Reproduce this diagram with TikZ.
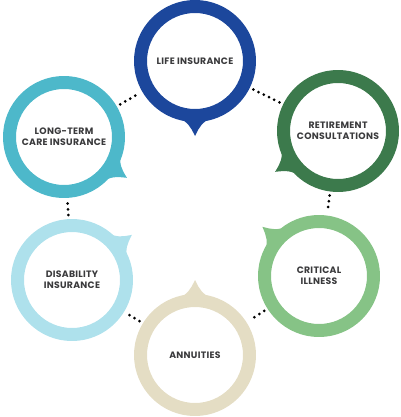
\documentclass[tikz,border=0pt]{standalone}
\usepackage{fontspec}
\setmainfont{Poppins}[LetterSpace=3]
\usetikzlibrary{calc}
\definecolor{lifec}{HTML}{1C479C}
\definecolor{retc}{HTML}{3C7A4C}
\definecolor{ltcc}{HTML}{4DB8CA}
\definecolor{disc}{HTML}{AEE1EC}
\definecolor{critc}{HTML}{86C386}
\definecolor{annc}{HTML}{E4DDC4}
\definecolor{txtc}{HTML}{3A3A3C}
\begin{document}
\begin{tikzpicture}[x=1pt, y=-1pt, line cap=round, line join=round,
    ring/.style={circle, draw=#1, line width=13pt, minimum size=109pt, inner sep=0pt,
      align=center, text=txtc, font=\bfseries\fontsize{9.3}{11}\selectfont},
    dots/.style={line width=3pt, dash pattern=on 0pt off 5.8pt, shorten <=4pt, shorten >=4pt}]
  \useasboundingbox (0,0) rectangle (400,417);
  % 六个圆环
  \node[ring=lifec] (life) at (195,61) {LIFE INSURANCE};
  \node[ring=retc] (ret) at (338,131) {RETIREMENT\\CONSULTATIONS};
  \node[ring=ltcc] (ltc) at (64,137) {LONG-TERM\\CARE INSURANCE};
  \node[ring=disc] (dis) at (72,280) {DISABILITY\\INSURANCE};
  \node[ring=critc] (crit) at (319,276) {CRITICAL\\ILLNESS};
  \node[ring=annc] (ann) at (195,355) {ANNUITIES};
  % 尖角
  \foreach \n/\c/\a in {life/lifec/90, ret/retc/147, ltc/ltcc/33,
      dis/disc/-37, crit/critc/221, ann/annc/-90}
    \fill[\c] ([shift={(\n.center)}]\a-19:57)
      .. controls ([shift={(\n.center)}]\a-5:64) .. ([shift={(\n.center)}]\a:75)
      .. controls ([shift={(\n.center)}]\a+5:64) .. ([shift={(\n.center)}]\a+19:57)
      -- cycle;
  % 点线连接
  \draw[dots] (life) -- (ret);
  \draw[dots] (ret) -- (crit);
  \draw[dots] (crit) -- (ann);
  \draw[dots] (ann) -- (dis);
  \draw[dots] (dis) -- (ltc);
  \draw[dots] (ltc) -- (life);
\end{tikzpicture}
\end{document}
